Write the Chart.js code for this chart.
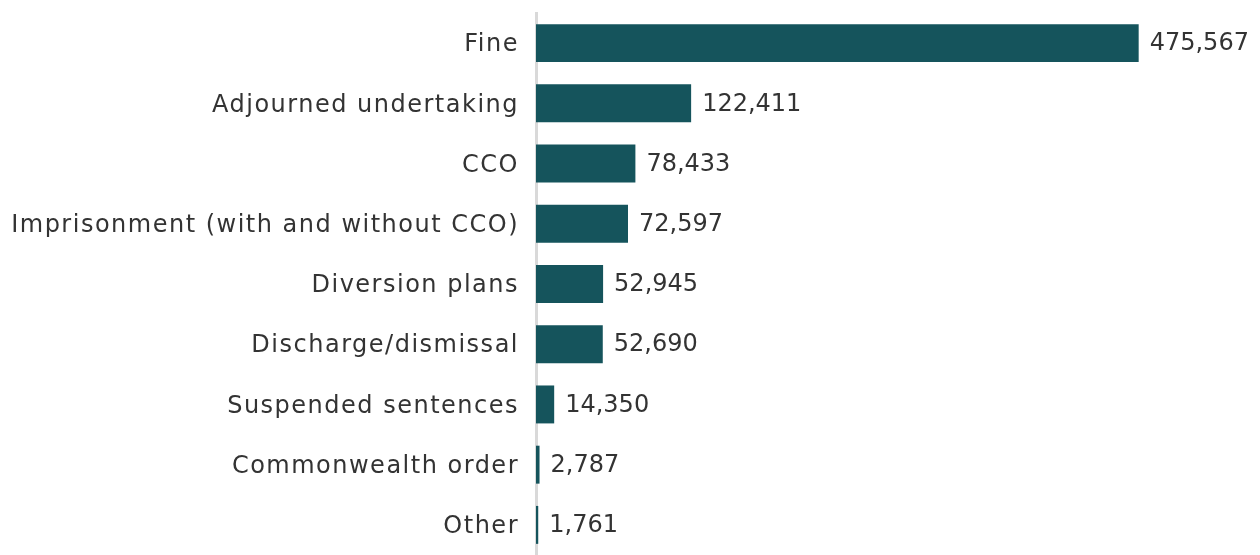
<!DOCTYPE html>
<html>
<head>
<meta charset="utf-8">
<script src="https://cdn.jsdelivr.net/npm/chart.js@4"></script>
<style>
  html, body { margin: 0; padding: 0; background: #ffffff; }
  #wrap { width: 1260px; height: 555px; }
</style>
</head>
<body>
<div id="wrap"><canvas id="myChart" width="1260" height="555"></canvas></div>
<script>
// sentence types and counts
const categories = ["Fine", "Adjourned undertaking", "CCO", "Imprisonment (with and without CCO)",
    "Diversion plans", "Discharge/dismissal", "Suspended sentences", "Commonwealth order", "Other"];
const counts = [475567, 122411, 78433, 72597, 52945, 52690, 14350, 2787, 1761];

const barColour = "#15545c";
const textColour = "#333333";
const fontName = "'DejaVu Sans', sans-serif";

// the original font is wider, so space the category labels out a bit
const wideText = {
    id: 'wideText',
    beforeDraw: function (chart) {
        chart.ctx.letterSpacing = "1.5px";
    }
};

// write the number just after the end of each bar
const valueLabels = {
    id: 'valueLabels',
    afterDatasetsDraw: function (chart) {
        const ctx = chart.ctx;
        const meta = chart.getDatasetMeta(0);
        ctx.save();
        ctx.letterSpacing = "0px";
        ctx.font = "24px " + fontName;
        ctx.fillStyle = textColour;
        ctx.textAlign = "left";
        ctx.textBaseline = "middle";
        meta.data.forEach(function (bar, i) {
            ctx.fillText(counts[i].toLocaleString('en-US'), bar.x + 11, bar.y + 1);
        });
        ctx.restore();
    }
};

new Chart("myChart", {
    type: "bar",
    data: {
        labels: categories,
        datasets: [{
            data: counts,
            backgroundColor: barColour,
            barPercentage: 0.63,
            categoryPercentage: 1.0
        }]
    },
    options: {
        indexAxis: 'y',
        responsive: false,
        animation: false,
        layout: { padding: { top: 13, right: 27, bottom: 0, left: 0 } },
        plugins: {
            legend: { display: false },
            tooltip: { enabled: false }
        },
        scales: {
            x: { display: false, min: 0, max: 550000 },
            y: {
                grid: { display: false },
                border: { display: true, color: "#d9d9d9", width: 3 },
                ticks: {
                    color: textColour,
                    padding: 9,
                    labelOffset: 2,
                    font: { family: fontName, size: 24 }
                },
                afterFit: function (scale) {
                    scale.width = 536;
                    scale.paddingTop = 0;
                    scale.paddingBottom = 0;
                }
            }
        }
    },
    plugins: [wideText, valueLabels]
});
</script>
</body>
</html>
